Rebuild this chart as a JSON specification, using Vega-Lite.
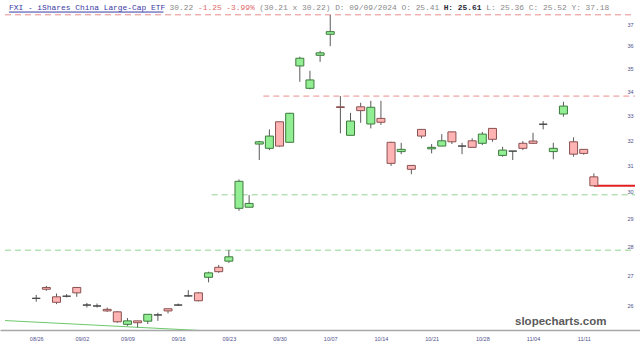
{
  "$schema": "https://vega.github.io/schema/vega-lite/v6.json",
  "width": 640,
  "height": 330,
  "autosize": {"type": "none"},
  "padding": {"left": 0, "top": 0, "right": 0, "bottom": 21},
  "background": "#ffffff",
  "config": {"view": {"stroke": null}},
  "datasets": {
    "candles": [
      {"date": "08/26", "i": 0, "open": 26.25, "high": 26.36, "low": 26.14, "close": 26.25},
      {"date": "08/27", "i": 1, "open": 26.61, "high": 26.66, "low": 26.50, "close": 26.55},
      {"date": "08/28", "i": 2, "open": 26.30, "high": 26.41, "low": 26.06, "close": 26.12},
      {"date": "08/29", "i": 3, "open": 26.32, "high": 26.39, "low": 26.28, "close": 26.32},
      {"date": "08/30", "i": 4, "open": 26.61, "high": 26.61, "low": 26.30, "close": 26.43},
      {"date": "09/03", "i": 5, "open": 26.03, "high": 26.10, "low": 25.95, "close": 26.03},
      {"date": "09/04", "i": 6, "open": 26.00, "high": 26.08, "low": 25.95, "close": 26.00},
      {"date": "09/05", "i": 7, "open": 25.89, "high": 25.95, "low": 25.81, "close": 25.84},
      {"date": "09/06", "i": 8, "open": 25.81, "high": 25.83, "low": 25.46, "close": 25.49},
      {"date": "09/09", "i": 9, "open": 25.41, "high": 25.61, "low": 25.36, "close": 25.52},
      {"date": "09/10", "i": 10, "open": 25.52, "high": 25.52, "low": 25.31, "close": 25.46},
      {"date": "09/11", "i": 11, "open": 25.51, "high": 25.73, "low": 25.42, "close": 25.73},
      {"date": "09/12", "i": 12, "open": 25.71, "high": 25.78, "low": 25.52, "close": 25.71},
      {"date": "09/13", "i": 13, "open": 25.91, "high": 25.91, "low": 25.76, "close": 25.84},
      {"date": "09/16", "i": 14, "open": 26.03, "high": 26.08, "low": 26.00, "close": 26.03},
      {"date": "09/17", "i": 15, "open": 26.33, "high": 26.52, "low": 26.30, "close": 26.33},
      {"date": "09/18", "i": 16, "open": 26.43, "high": 26.46, "low": 26.15, "close": 26.17},
      {"date": "09/19", "i": 17, "open": 26.95, "high": 27.14, "low": 26.78, "close": 27.10},
      {"date": "09/20", "i": 18, "open": 27.29, "high": 27.37, "low": 27.10, "close": 27.14},
      {"date": "09/23", "i": 19, "open": 27.50, "high": 27.88, "low": 27.44, "close": 27.65},
      {"date": "09/24", "i": 20, "open": 29.38, "high": 30.46, "low": 29.29, "close": 30.39},
      {"date": "09/25", "i": 21, "open": 29.42, "high": 29.87, "low": 29.42, "close": 29.56},
      {"date": "09/26", "i": 22, "open": 31.84, "high": 31.97, "low": 31.21, "close": 31.93},
      {"date": "09/27", "i": 23, "open": 31.67, "high": 32.43, "low": 31.60, "close": 32.16},
      {"date": "09/30", "i": 24, "open": 32.74, "high": 32.74, "low": 31.73, "close": 31.76},
      {"date": "10/01", "i": 25, "open": 31.91, "high": 33.11, "low": 31.89, "close": 33.09},
      {"date": "10/02", "i": 26, "open": 35.11, "high": 35.52, "low": 34.42, "close": 35.45},
      {"date": "10/03", "i": 27, "open": 34.14, "high": 34.90, "low": 34.10, "close": 34.50},
      {"date": "10/04", "i": 28, "open": 35.58, "high": 35.78, "low": 35.29, "close": 35.69},
      {"date": "10/07", "i": 29, "open": 36.53, "high": 37.42, "low": 35.99, "close": 36.65},
      {"date": "10/08", "i": 30, "open": 33.36, "high": 33.81, "low": 32.27, "close": 33.33},
      {"date": "10/09", "i": 31, "open": 32.19, "high": 33.11, "low": 32.19, "close": 32.77},
      {"date": "10/10", "i": 32, "open": 33.36, "high": 33.53, "low": 32.70, "close": 33.20},
      {"date": "10/11", "i": 33, "open": 32.65, "high": 33.61, "low": 32.47, "close": 33.34},
      {"date": "10/14", "i": 34, "open": 32.88, "high": 33.61, "low": 32.61, "close": 32.72},
      {"date": "10/15", "i": 35, "open": 31.91, "high": 31.93, "low": 30.98, "close": 31.08},
      {"date": "10/16", "i": 36, "open": 31.54, "high": 31.89, "low": 31.44, "close": 31.63},
      {"date": "10/17", "i": 37, "open": 31.00, "high": 31.00, "low": 30.66, "close": 30.85},
      {"date": "10/18", "i": 38, "open": 32.43, "high": 32.43, "low": 32.07, "close": 32.16},
      {"date": "10/21", "i": 39, "open": 31.65, "high": 31.84, "low": 31.47, "close": 31.71},
      {"date": "10/22", "i": 40, "open": 31.76, "high": 32.24, "low": 31.76, "close": 31.97},
      {"date": "10/23", "i": 41, "open": 32.33, "high": 32.33, "low": 31.84, "close": 31.93},
      {"date": "10/24", "i": 42, "open": 31.76, "high": 31.89, "low": 31.44, "close": 31.76},
      {"date": "10/25", "i": 43, "open": 31.97, "high": 32.07, "low": 31.71, "close": 31.71},
      {"date": "10/28", "i": 44, "open": 31.87, "high": 32.33, "low": 31.80, "close": 32.24},
      {"date": "10/29", "i": 45, "open": 32.47, "high": 32.47, "low": 31.93, "close": 32.03},
      {"date": "10/30", "i": 46, "open": 31.39, "high": 31.73, "low": 31.34, "close": 31.60},
      {"date": "10/31", "i": 47, "open": 31.56, "high": 31.56, "low": 31.21, "close": 31.56},
      {"date": "11/01", "i": 48, "open": 31.87, "high": 31.96, "low": 31.60, "close": 31.67},
      {"date": "11/04", "i": 49, "open": 31.96, "high": 32.29, "low": 31.84, "close": 31.87},
      {"date": "11/05", "i": 50, "open": 32.64, "high": 32.77, "low": 32.43, "close": 32.64},
      {"date": "11/06", "i": 51, "open": 31.54, "high": 31.89, "low": 31.24, "close": 31.67},
      {"date": "11/07", "i": 52, "open": 33.06, "high": 33.57, "low": 32.95, "close": 33.39},
      {"date": "11/08", "i": 53, "open": 31.93, "high": 32.11, "low": 31.34, "close": 31.44},
      {"date": "11/11", "i": 54, "open": 31.63, "high": 31.63, "low": 31.42, "close": 31.47},
      {"date": "11/12", "i": 55, "open": 30.56, "high": 30.69, "low": 30.22, "close": 30.22}
    ],
    "levels": [
      {"price": 37.43, "from": -3.078, "kind": "resistance"},
      {"price": 33.81, "from": 22.4, "kind": "resistance"},
      {"price": 29.88, "from": 17.3, "kind": "support"},
      {"price": 27.88, "from": -3.078, "kind": "support"}
    ],
    "last": [{"price": 30.22, "from": 55}],
    "trend": [{"i": -3.078, "p": 25.53}, {"i": 18.3, "p": 25.18}]
  },
  "layer": [
    {
      "data": {"name": "levels"},
      "mark": {"type": "rule", "strokeDash": [6, 4], "strokeWidth": 1},
      "encoding": {
        "x": {
          "field": "from", "type": "quantitative",
          "scale": {"type": "linear", "domain": [-3.078, 59.058], "nice": false, "zero": false},
          "axis": {
            "values": [0, 4.5, 9, 14, 19, 24, 29, 34, 39, 44, 49, 54],
            "labelExpr": "datum.value == 0 ? '08/26' : datum.value == 4.5 ? '09/02' : datum.value == 9 ? '09/09' : datum.value == 14 ? '09/16' : datum.value == 19 ? '09/23' : datum.value == 24 ? '09/30' : datum.value == 29 ? '10/07' : datum.value == 34 ? '10/14' : datum.value == 39 ? '10/21' : datum.value == 44 ? '10/28' : datum.value == 49 ? '11/04' : '11/11'",
            "title": null, "grid": false, "ticks": false, "tickSize": 0,
            "domain": true, "domainColor": "#a8a8a8", "domainWidth": 1.5,
            "labelFont": "Liberation Sans", "labelFontSize": 5.5, "labelColor": "#50508c",
            "labelPadding": 6, "labelFlush": false, "labelOverlap": false
          }
        },
        "x2": {"datum": 59.058},
        "y": {
          "field": "price", "type": "quantitative",
          "scale": {"type": "log", "domain": [25.23, 38.13], "nice": false},
          "axis": {
            "orient": "right", "offset": -15,
            "values": [26, 27, 28, 29, 30, 31, 32, 33, 34, 35, 36, 37],
            "title": null, "grid": false, "ticks": false, "tickSize": 0, "domain": false,
            "labelFont": "Liberation Sans", "labelFontSize": 5.5, "labelColor": "#50508c",
            "labelPadding": 2, "labelAlign": "left", "labelBaseline": "middle", "labelOverlap": false
          }
        },
        "stroke": {"condition": {"test": "datum.kind === 'resistance'", "value": "#ec8c8c"}, "value": "#92d492"}
      }
    },
    {
      "data": {"name": "trend"},
      "mark": {"type": "line", "color": "#6cc86c", "strokeWidth": 1, "clip": true},
      "encoding": {
        "x": {"field": "i", "type": "quantitative"},
        "y": {"field": "p", "type": "quantitative"}
      }
    },
    {
      "data": {"name": "last"},
      "mark": {"type": "rule", "color": "#e02020", "strokeWidth": 2},
      "encoding": {
        "x": {"field": "from", "type": "quantitative"},
        "x2": {"datum": 59.058},
        "y": {"field": "price", "type": "quantitative"}
      }
    },
    {
      "data": {"name": "candles"},
      "mark": {"type": "rule", "color": "#5a5a5a", "strokeWidth": 1},
      "encoding": {
        "x": {"field": "i", "type": "quantitative"},
        "y": {"field": "low", "type": "quantitative"},
        "y2": {"field": "high"}
      }
    },
    {
      "data": {"name": "candles"},
      "mark": {"type": "bar", "width": 8, "strokeWidth": 1},
      "encoding": {
        "x": {"field": "i", "type": "quantitative"},
        "y": {"field": "open", "type": "quantitative"},
        "y2": {"field": "close"},
        "fill": {"condition": {"test": "datum.close > datum.open", "value": "#92ee92"}, "value": "#ffb3b3"},
        "stroke": {"condition": [{"test": "datum.close > datum.open", "value": "#3e7a3e"}, {"test": "datum.close < datum.open", "value": "#8a5050"}], "value": "#444444"}
      }
    },
    {
      "data": {"values": [{"label": "slopecharts.com"}]},
      "mark": {"type": "text", "align": "right", "baseline": "middle", "font": "Liberation Sans", "fontWeight": "bold", "fontSize": 11.5, "color": "#5a5a5a"},
      "encoding": {
        "x": {"datum": 56.24, "type": "quantitative"},
        "y": {"datum": 25.48, "type": "quantitative"},
        "text": {"field": "label"}
      }
    },
    {
      "data": {"values": [{"label": "FXI - iShares China Large-Cap ETF"}]},
      "mark": {"type": "text", "align": "left", "baseline": "alphabetic", "font": "Liberation Mono", "fontSize": 7.9, "color": "#3b3ba6"},
      "encoding": {
        "x": {"datum": -2.689, "type": "quantitative"},
        "y": {"datum": 37.654, "type": "quantitative"},
        "text": {"field": "label"}
      }
    },
    {
      "data": {"values": [{"from": -2.689, "to": 12.55, "price": 37.56}]},
      "mark": {"type": "rule", "color": "#3b3ba6", "strokeWidth": 1},
      "encoding": {
        "x": {"field": "from", "type": "quantitative"},
        "x2": {"field": "to"},
        "y": {"field": "price", "type": "quantitative"}
      }
    },
    {
      "data": {"values": [{"label": "30.22"}]},
      "mark": {"type": "text", "align": "left", "baseline": "alphabetic", "font": "Liberation Mono", "fontSize": 7.9, "color": "#8a8a8a"},
      "encoding": {
        "x": {"datum": 13.155, "type": "quantitative"},
        "y": {"datum": 37.654, "type": "quantitative"},
        "text": {"field": "label"}
      }
    },
    {
      "data": {"values": [{"label": "-1.25 -3.99%"}]},
      "mark": {"type": "text", "align": "left", "baseline": "alphabetic", "font": "Liberation Mono", "fontSize": 7.9, "color": "#e06a6a"},
      "encoding": {
        "x": {"datum": 15.951, "type": "quantitative"},
        "y": {"datum": 37.654, "type": "quantitative"},
        "text": {"field": "label"}
      }
    },
    {
      "data": {"values": [{"label": "(30.21 x 30.22) D: 09/09/2024 O: 25.41"}]},
      "mark": {"type": "text", "align": "left", "baseline": "alphabetic", "font": "Liberation Mono", "fontSize": 7.9, "color": "#8a8a8a"},
      "encoding": {
        "x": {"datum": 22.01, "type": "quantitative"},
        "y": {"datum": 37.654, "type": "quantitative"},
        "text": {"field": "label"}
      }
    },
    {
      "data": {"values": [{"label": "H: 25.61"}]},
      "mark": {"type": "text", "align": "left", "baseline": "alphabetic", "font": "Liberation Mono", "fontSize": 7.9, "fontWeight": "bold", "color": "#2a2a3a"},
      "encoding": {
        "x": {"datum": 40.184, "type": "quantitative"},
        "y": {"datum": 37.654, "type": "quantitative"},
        "text": {"field": "label"}
      }
    },
    {
      "data": {"values": [{"label": "L: 25.36 C: 25.52 Y: 37.18"}]},
      "mark": {"type": "text", "align": "left", "baseline": "alphabetic", "font": "Liberation Mono", "fontSize": 7.9, "color": "#8a8a8a"},
      "encoding": {
        "x": {"datum": 44.379, "type": "quantitative"},
        "y": {"datum": 37.654, "type": "quantitative"},
        "text": {"field": "label"}
      }
    }
  ]
}
